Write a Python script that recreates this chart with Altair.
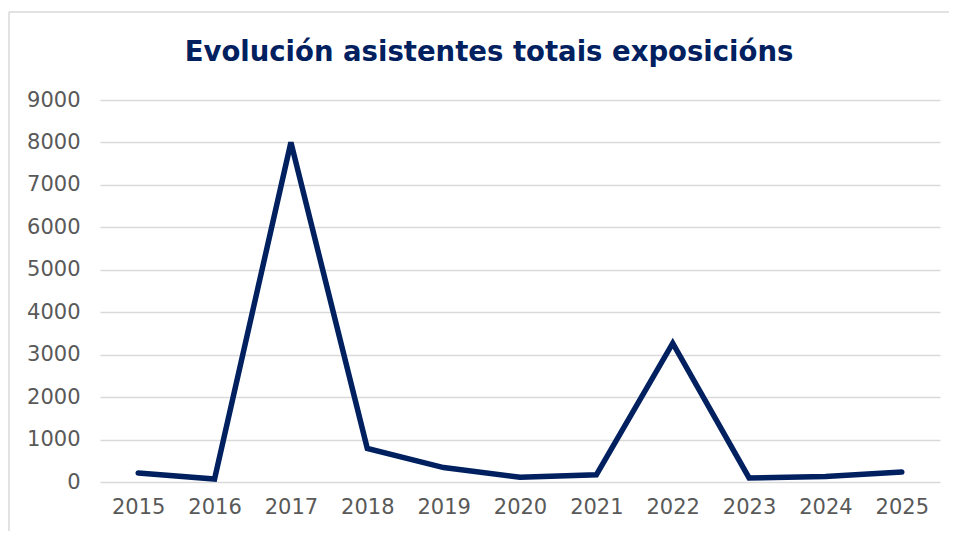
import altair as alt
import pandas as pd

years = ["2015", "2016", "2017", "2018", "2019", "2020", "2021", "2022", "2023", "2024", "2025"]
attendees = [210, 70, 8000, 790, 340, 110, 170, 3270, 95, 130, 235]
y_ticks = [0, 1000, 2000, 3000, 4000, 5000, 6000, 7000, 8000, 9000]
title_text = ["Evolución asistentes totais exposicións"]

df = pd.DataFrame({"year": years, "value": attendees})
tdf = pd.DataFrame({"t": title_text})

navy = "#002060"
label_gray = "#595959"
font = "DejaVu Sans"

line = alt.Chart(df).mark_line(color=navy, strokeWidth=5.5, strokeJoin="miter", strokeCap="round").encode(
    x=alt.X("year:O", sort=years,
            scale=alt.Scale(type="point", padding=0.5),
            axis=alt.Axis(title=None, labelAngle=0, ticks=False, domain=False, grid=False,
                          labelFontSize=21, labelColor=label_gray, labelFont=font, labelPadding=14)),
    y=alt.Y("value:Q", scale=alt.Scale(domain=[0, 9000], nice=False),
            axis=alt.Axis(title=None, values=y_ticks, format="d", ticks=False, domain=False,
                          gridColor="#d9d9d9", gridWidth=1.5,
                          labelFontSize=21, labelColor=label_gray, labelFont=font, labelPadding=20)),
)

title = alt.Chart(tdf).mark_text(font=font, fontSize=27.5, fontWeight="bold", color=navy,
                                 align="center", baseline="alphabetic").encode(
    text="t:N", x=alt.value(389), y=alt.value(-39)
)

border = alt.Chart(tdf).mark_rule(color="#d9d9d9", strokeWidth=1.5).encode(
    x=alt.value(-91), x2=alt.value(900), y=alt.value(-88)
)
border_left = alt.Chart(tdf).mark_rule(color="#d9d9d9", strokeWidth=1.5).encode(
    x=alt.value(-91), y=alt.value(-88), y2=alt.value(460)
)

chart = alt.layer(border, border_left, title, line).properties(
    width=840, height=382,
    padding={"left": 92, "top": 92, "right": 9, "bottom": 49},
    autosize=alt.AutoSizeParams(type="none"),
).configure_view(stroke=None)

chart.save("out.html", embed_options={"renderer": "svg", "actions": False})
